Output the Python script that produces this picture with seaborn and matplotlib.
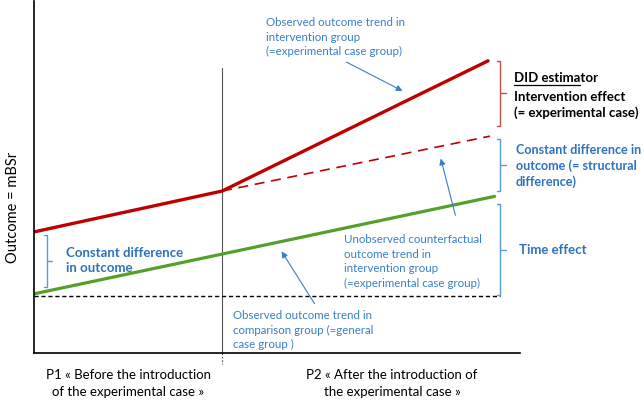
import matplotlib
matplotlib.use("Agg")
import matplotlib.pyplot as plt
import seaborn as sns
import pandas as pd

# ---- data (outcome units, time in periods) ----
t_obs = [0.0, 1.0, 2.415]
intervention_obs = [3.44, 4.60, 8.30]
t_cf = [1.0, 2.425]
intervention_cf = [4.60, 6.16]
t_cmp = [0.0, 1.0, 2.45]
comparison_obs = [1.68, 2.81, 4.45]
t_base = [0.0, 2.48]
baseline = [1.62, 1.62]

x_labels = ["P1 « Before the introduction\nof the experimental case »",
            "P2 « After the introduction of\nthe experimental case »"]
y_label = "Outcome = mBSr"

sns.set_style("white")
plt.rcParams['font.family'] = ['Lato', 'DejaVu Sans']

W, H = 644, 402
fig = plt.figure(figsize=(W / 100, H / 100), dpi=100)
ax = fig.add_axes([34 / W, (H - 354) / H, (520 - 34) / W, (354 - 2) / H])
ax.set_xlim(0, 2.585)
ax.set_ylim(0, 10)

RED = "#C00000"
GREEN = "#54A02A"
BLUE = "#3A7DC9"
BLUE_B = "#2F72BE"
BR_BLUE = "#5B9BD5"
BR_RED = "#C0504D"

df_obs = pd.DataFrame({"t": t_obs, "y": intervention_obs})
df_cf = pd.DataFrame({"t": t_cf, "y": intervention_cf})
df_cmp = pd.DataFrame({"t": t_cmp, "y": comparison_obs})
df_base = pd.DataFrame({"t": t_base, "y": baseline})

sns.lineplot(data=df_base, x="t", y="y", ax=ax, color="black", lw=1.0,
             linestyle=(0, (3, 2)))
sns.lineplot(data=df_cmp, x="t", y="y", ax=ax, color=GREEN, lw=2.3)
sns.lineplot(data=df_cf, x="t", y="y", ax=ax, color=RED, lw=1.2,
             linestyle=(0, (6, 4)))
sns.lineplot(data=df_obs, x="t", y="y", ax=ax, color=RED, lw=2.4)

# divider
ax.plot([1, 1], [0, 8.10], color="#555555", lw=0.8, zorder=1)
ax.plot([1, 1], [0, -0.30], color="#555555", lw=0.8, linestyle=(0, (1.5, 1.5)),
        clip_on=False)

sns.despine(ax=ax)
for s in ("left", "bottom"):
    ax.spines[s].set_color("black")
    ax.spines[s].set_linewidth(1.2)
ax.set_xticks([])
ax.set_yticks([])
ax.set_xlabel("")
ax.set_ylabel("")


def bracket(x, y0, y1, color):
    hook = 0.018
    tick = 0.028
    ym = (y0 + y1) / 2
    ax.plot([x - hook, x, x, x - hook], [y1, y1, y0, y0], color=color, lw=1.0,
            clip_on=False, solid_joinstyle="round")
    ax.plot([x, x + tick], [ym, ym], color=color, lw=1.0, clip_on=False)


bracket(2.48, 6.45, 8.30, BR_RED)
bracket(2.48, 4.60, 6.08, BR_BLUE)
bracket(2.48, 1.65, 4.23, BR_BLUE)
bracket(0.07, 1.875, 3.35, BR_BLUE)

kw = dict(clip_on=False, ha="left", va="center")
# right bracket texts
ax.text(2.553, 7.84, "DID estimator", fontsize=9.5, fontweight="bold",
        color="black", **kw)
ax.text(2.553, 7.31, "Intervention effect", fontsize=9.5, fontweight="bold",
        color="black", **kw)
ax.text(2.553, 6.86, "(= experimental case)", fontsize=9.5, fontweight="bold",
        color="black", **kw)
ax.plot([2.553, 2.905], [7.61, 7.61], color="black", lw=0.9, clip_on=False)

ax.text(2.564, 5.35, "Constant difference in\noutcome (= structural\ndifference)",
        fontsize=9.1, fontweight="bold", color=BLUE_B, linespacing=1.3, **kw)
ax.text(2.58, 2.95, "Time effect", fontsize=9.5, fontweight="bold",
        color=BLUE_B, **kw)
ax.text(0.17, 2.65, "Constant difference\nin outcome", fontsize=9.5,
        fontweight="bold", color=BLUE_B, linespacing=1.3, **kw)

# annotations
ax.text(1.234, 9.00, "Observed outcome trend in\nintervention group\n(=experimental case group)",
        fontsize=8.3, color=BLUE, linespacing=1.38, **kw)
ax.text(1.649, 2.63, "Unobserved counterfactual\noutcome trend in\nintervention group\n(=experimental case group)",
        fontsize=8.3, color=BLUE, linespacing=1.38, **kw)
ax.text(1.059, 0.68, "Observed outcome trend in\ncomparison group (=general\ncase group )",
        fontsize=8.3, color=BLUE, linespacing=1.38, **kw)

arrow = dict(arrowstyle="-|>", color=BLUE, lw=0.8, mutation_scale=9)
ax.annotate("", xy=(1.973, 7.41), xytext=(1.649, 8.30), arrowprops=arrow,
            annotation_clip=False)
ax.annotate("", xy=(2.16, 5.60), xytext=(2.245, 3.835), arrowprops=arrow,
            annotation_clip=False)
ax.annotate("", xy=(1.309, 2.955), xytext=(1.50, 1.335), arrowprops=arrow,
            annotation_clip=False)

# x labels
ax.text(0.5, -0.84, x_labels[0], fontsize=9.5, color="black", ha="center",
        va="center", linespacing=1.45, clip_on=False)
ax.text(1.904, -0.84, x_labels[1], fontsize=9.5, color="black", ha="center",
        va="center", linespacing=1.45, clip_on=False)

fig.text(13 / W, 1 - 207 / H, y_label, rotation=90, fontsize=10.5,
         ha="center", va="center", color="black")

fig.savefig("out.png", dpi=100)
